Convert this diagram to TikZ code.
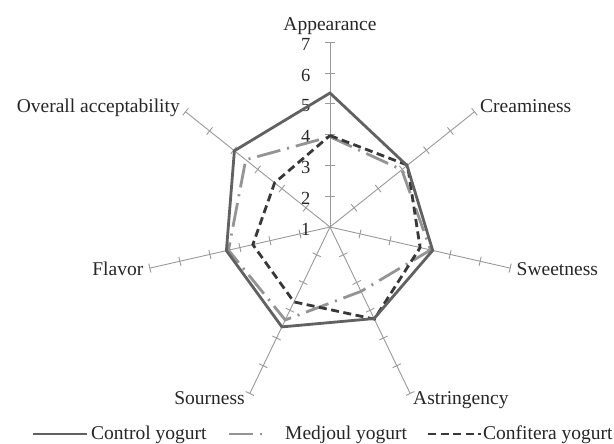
\documentclass[tikz,border=0pt]{standalone}
\usepackage{fontspec}
\setmainfont{Liberation Serif}
\usetikzlibrary{calc}
\begin{document}
\begin{tikzpicture}[x=1pt,y=1pt,
  axisline/.style={draw=black!40, line width=0.9pt},
  lab/.style={font=\fontsize{19.5}{22}\selectfont, inner sep=0pt, text=black!85},
  ticklab/.style={font=\fontsize{18.5}{20}\selectfont, inner sep=0pt, text=black!85, anchor=east},
  ctrl/.style={draw=black!62, line width=2.8pt},
  medj/.style={draw=black!42, line width=2.8pt, dash pattern=on 24pt off 7pt on 2pt off 7pt},
  conf/.style={draw=black!78, line width=2.8pt, dash pattern=on 8pt off 4.5pt}]
\useasboundingbox (0,0) rectangle (614,444);
\coordinate (c) at (330,217);
% axes
\foreach \i/\a in {0/90,1/38.5714,2/-12.8571,3/-64.2857,4/-115.7143,5/-167.1429,6/141.4286}{
  \coordinate (e\i) at ($(c)+(\a:184.8)$);
  \draw[axisline] (c) -- (e\i);
  \foreach \k in {1,...,6}{
    \coordinate (t\i a\k) at ($(c)+(\a:{\k*30.8})+(\a+90:4.6)$);
    \coordinate (t\i b\k) at ($(c)+(\a:{\k*30.8})+(\a-90:4.6)$);
    \draw[axisline] (t\i a\k) -- (t\i b\k);
  }
}
% tick labels
\foreach \k in {1,...,7}{
  \node[ticklab] (n\k) at (310.5,{215+(\k-1)*30.8}) {\k};
}
% data
\foreach \i/\a/\v in {0/90/5.35,1/38.5714/4.2,2/-12.8571/4.42,3/-64.2857/4.3,4/-115.7143/4.6,5/-167.1429/4.45,6/141.4286/4.97}{
  \coordinate (p\i) at ($(c)+(\a:{(\v-1)*30.8})$);
}
\foreach \i/\a/\v in {0/90/3.93,1/38.5714/3.98,2/-12.8571/4.35,3/-64.2857/3.32,4/-115.7143/4.35,5/-167.1429/4.38,6/141.4286/4.5}{
  \coordinate (q\i) at ($(c)+(\a:{(\v-1)*30.8})$);
}
\foreach \i/\a/\v in {0/90/3.97,1/38.5714/4.22,2/-12.8571/4.0,3/-64.2857/4.32,4/-115.7143/3.7,5/-167.1429/3.57,6/141.4286/3.3}{
  \coordinate (r\i) at ($(c)+(\a:{(\v-1)*30.8})$);
}
\draw[medj] (q0) -- (q1) -- (q2) -- (q3) -- (q4) -- (q5) -- (q6) -- cycle;
\draw[conf] (r0) -- (r1) -- (r2) -- (r3) -- (r4) -- (r5) -- (r6) -- cycle;
\draw[ctrl] (p0) -- (p1) -- (p2) -- (p3) -- (p4) -- (p5) -- (p6) -- cycle;
% axis labels
\node[lab, anchor=base] (L0) at (330,413) {Appearance};
\node[lab, anchor=base west] (L1) at (480,331) {Creaminess};
\node[lab, anchor=base west] (L2) at (516.5,168) {Sweetness};
\node[lab, anchor=base west] (L3) at (413,39) {Astringency};
\node[lab, anchor=base east] (L4) at (245,39) {Sourness};
\node[lab, anchor=base east] (L5) at (143.5,168) {Flavor};
\node[lab, anchor=base east] (L6) at (180,331) {Overall acceptability};
% legend
\coordinate (g1a) at (33,10); \coordinate (g1b) at (87,10);
\draw[ctrl] (g1a) -- (g1b);
\node[lab, anchor=base west] (G1) at (91,4) {Control yogurt};
\coordinate (g2a) at (229,10); \coordinate (g2b) at (268,10);
\draw[medj] (g2a) -- (g2b);
\node[lab, anchor=base west] (G2) at (285,4) {Medjoul yogurt};
\coordinate (g3a) at (428,10); \coordinate (g3b) at (481,10);
\draw[conf] (g3a) -- (g3b);
\node[lab, anchor=base west] (G3) at (483,4) {Confitera yogurt};
\end{tikzpicture}
\end{document}
